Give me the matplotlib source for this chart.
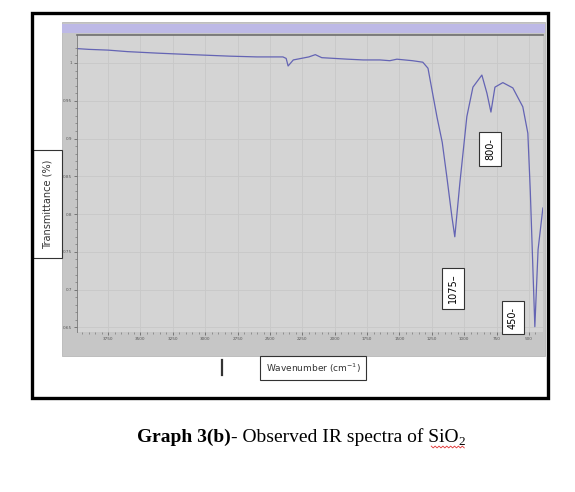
import numpy as np
import matplotlib.pyplot as plt
from matplotlib.patches import Rectangle

# IR spectrum of SiO2 (wavenumber cm-1, transmittance)
wavenumber = [3990, 3900, 3750, 3600, 3370, 3100, 2810, 2600, 2400, 2375, 2360, 2345,
              2320, 2290, 2200, 2150, 2100, 2000, 1900, 1780, 1650, 1575, 1520, 1400,
              1320, 1280, 1250, 1210, 1170, 1135, 1095, 1073, 1034, 980, 933, 864,
              825, 794, 763, 702, 625, 548, 509, 490, 455, 430, 393]
transmittance = [1.019, 1.018, 1.017, 1.015, 1.013, 1.011, 1.009, 1.008, 1.008, 1.006,
                 0.996, 0.999, 1.004, 1.005, 1.008, 1.011, 1.007, 1.006, 1.005, 1.004,
                 1.004, 1.003, 1.005, 1.003, 1.001, 0.993, 0.965, 0.928, 0.895, 0.85,
                 0.796, 0.770, 0.841, 0.929, 0.968, 0.984, 0.96, 0.935, 0.968, 0.974,
                 0.967, 0.942, 0.907, 0.83, 0.651, 0.753, 0.808]

x_ticks = [3750, 3500, 3250, 3000, 2750, 2500, 2250, 2000, 1750, 1500, 1250, 1000, 750, 500]
y_ticks = [1.0, 0.95, 0.9, 0.85, 0.8, 0.75, 0.7, 0.65]
y_ticklabels = ['1', '0.95', '0.9', '0.85', '0.8', '0.75', '0.7', '0.65']
peaks = ['800', '1075', '450']

W, H = 575, 492
fig = plt.figure(figsize=(W / 100, H / 100), dpi=100)


def fx(x):
    return x / W


def fy(y):
    return 1 - y / H


def rect(x0, y0, x1, y1, **kw):
    fig.add_artist(Rectangle((fx(x0), fy(y1)), fx(x1) - fx(x0), fy(y0) - fy(y1),
                             transform=fig.transFigure, **kw))


# outer frame and grey panel of the pasted spectrum
rect(32, 13, 548, 398, fill=False, edgecolor='black', linewidth=2.4, zorder=5)
rect(62, 22, 545, 356, facecolor='#c6c6c6', edgecolor='#b8b8b8', linewidth=0.6, zorder=0)
rect(62, 24, 545, 33, facecolor='#bdb9e6', edgecolor='none', zorder=1)

ax = fig.add_axes([fx(77), fy(332), fx(543) - fx(77), fy(35) - fy(332)])
ax.set_facecolor('#d4d4d4')
ax.plot(wavenumber, transmittance, color='#6464b4', linewidth=0.9)
ax.set_xlim(3990, 392)
ax.set_ylim(0.644, 1.037)
ax.set_xticks(x_ticks)
ax.set_xticks(np.arange(3950, 400, -50), minor=True)
ax.set_yticks(y_ticks)
ax.set_yticks(np.arange(0.66, 1.03, 0.01), minor=True)
ax.set_yticklabels(y_ticklabels)
ax.tick_params(labelsize=3, colors='#555555', length=2, width=0.5, pad=1.5)
ax.tick_params(which='minor', length=1.5, width=0.5, colors='#777777')
ax.grid(True, color='#c8c8c8', linewidth=0.6)
for side in ['right', 'bottom']:
    ax.spines[side].set_visible(False)
ax.spines['left'].set_color('#777777')
ax.spines['left'].set_linewidth(0.6)
ax.spines['top'].set_color('#6e6e6e')
ax.spines['top'].set_linewidth(1.2)

box = dict(boxstyle='square,pad=0.6', facecolor='white', edgecolor='#333333', linewidth=0.8)
ax.text(800, 0.886, peaks[0] + '-', rotation=90, fontsize=7, ha='center', va='center', bbox=box)
ax.text(1085, 0.702, peaks[1] + '\u2013', rotation=90, fontsize=7, ha='center', va='center', bbox=box)
ax.text(625, 0.663, peaks[2] + '-', rotation=90, fontsize=7, ha='center', va='center', bbox=box)

# axis titles in their own boxes
rect(33, 150, 62, 258, facecolor='white', edgecolor='#333333', linewidth=0.8, zorder=3)
fig.text(fx(47.5), fy(204), 'Transmittance (%)', rotation=90, fontsize=7,
         ha='center', va='center', color='#333333', zorder=4)
rect(260, 356, 366, 380, facecolor='white', edgecolor='#333333', linewidth=0.8, zorder=3)
fig.text(fx(313), fy(368), 'Wavenumber (cm$^{-1}$)', fontsize=6.5,
         ha='center', va='center', color='#333333', zorder=4)
fig.add_artist(plt.Line2D([fx(222), fx(222)], [fy(360), fy(375)], color='#333333',
                          linewidth=1.6, transform=fig.transFigure))

# caption below the frame
serif = ['Liberation Serif', 'DejaVu Serif']
t1 = fig.text(fx(137), fy(437), 'Graph 3(b)', fontsize=14, fontweight='bold',
              family=serif, va='center', ha='left')
t2 = fig.text(0, 0, '- Observed IR spectra of SiO', fontsize=14, family=serif,
              va='center', ha='left')
fig.canvas.draw()
r = fig.canvas.get_renderer()
bb = t1.get_window_extent(r)
t2.set_position((bb.x1 / fig.bbox.width, fy(437)))
bb2 = t2.get_window_extent(r)
fig.text(bb2.x1 / fig.bbox.width, fy(442), '2', fontsize=9.5, family=serif,
         va='center', ha='left')
# red wavy spell-check underline under "SiO"
x0 = bb2.x1 - 27
xs = np.linspace(x0, bb2.x1 + 6, 18)
ys = fig.bbox.height * fy(447) + np.where(np.arange(18) % 2 == 0, 0.9, -0.9)
fig.add_artist(plt.Line2D(xs / fig.bbox.width, ys / fig.bbox.height, color='#e03030',
                          linewidth=0.6, transform=fig.transFigure))

fig.savefig('out.png', dpi=100)
